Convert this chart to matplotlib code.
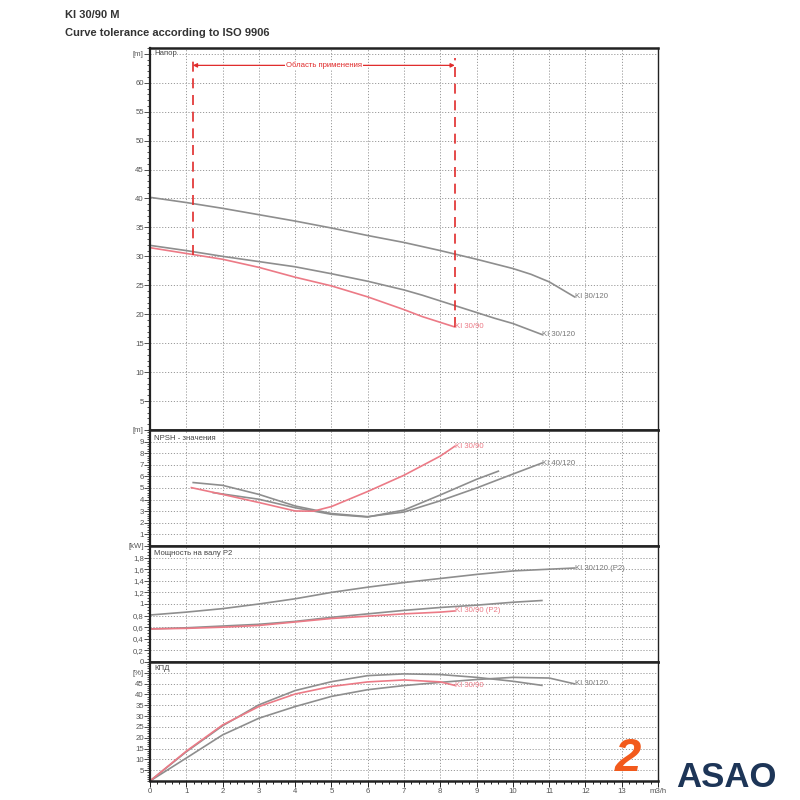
import matplotlib
matplotlib.use("Agg")
import matplotlib.pyplot as plt
from matplotlib.ticker import MultipleLocator, FixedLocator, FixedFormatter

plt.rcParams['font.family'] = ['Liberation Sans', 'DejaVu Sans']

# ---------------- data ----------------
title_1 = "KI 30/90 M"
title_2 = "Curve tolerance according to ISO 9906"

# Head [m]
head_upper_q = [0, 1, 2, 3, 4, 5, 6, 7, 8, 9, 10, 10.5, 11, 11.7]
head_upper_h = [40.2, 39.3, 38.3, 37.2, 36.1, 34.9, 33.6, 32.4, 31.0, 29.5, 27.9, 26.9, 25.6, 23.0]
head_lower_q = [0, 1, 2, 3, 4, 5, 6, 7, 7.5, 8, 8.5, 9, 9.5, 10, 10.8]
head_lower_h = [31.9, 31.0, 30.0, 29.1, 28.2, 27.0, 25.7, 24.2, 23.3, 22.3, 21.3, 20.3, 19.3, 18.4, 16.5]
head_red_q = [0, 1, 2, 3, 4, 5, 6, 7, 7.5, 8, 8.4]
head_red_h = [31.5, 30.5, 29.5, 28.1, 26.4, 24.9, 23.0, 20.8, 19.6, 18.6, 17.8]

# application range
range_q = [1.18, 8.4]
range_h_bottom = [30.2, 17.8]
range_h_top = 64.3
range_arrow_h = 63.0
range_text = "Область применения"

# NPSH [m]
npsh_red_q = [1.14, 2, 3, 4, 4.5, 5, 6, 7, 8, 8.4]
npsh_red_v = [5.03, 4.45, 3.75, 3.02, 3.0, 3.4, 4.7, 6.1, 7.75, 8.6]
npsh_a_q = [1.19, 2, 3, 4, 5, 6, 7, 8, 9, 10, 10.8]
npsh_a_v = [5.47, 5.23, 4.45, 3.45, 2.8, 2.53, 2.93, 3.9, 5.0, 6.2, 7.15]
npsh_b_q = [1.74, 3, 4, 5, 6, 7, 8, 9, 9.6]
npsh_b_v = [4.6, 4.03, 3.3, 2.73, 2.5, 3.1, 4.4, 5.75, 6.45]

# Power P2 [kW]
p2_upper_q = [0, 1, 2, 3, 4, 5, 6, 7, 8, 9, 10, 11, 11.7]
p2_upper_v = [0.81, 0.86, 0.92, 1.0, 1.09, 1.2, 1.29, 1.37, 1.44, 1.51, 1.57, 1.6, 1.62]
p2_lower_q = [0, 1, 2, 3, 4, 5, 6, 7, 8, 9, 10, 10.8]
p2_lower_v = [0.57, 0.59, 0.62, 0.65, 0.70, 0.77, 0.83, 0.89, 0.94, 0.98, 1.03, 1.06]
p2_red_q = [0, 1, 2, 3, 4, 5, 6, 7, 8, 8.4]
p2_red_v = [0.57, 0.58, 0.60, 0.63, 0.69, 0.75, 0.79, 0.83, 0.86, 0.88]

# Efficiency [%]
eff_a_q = [0, 1, 2, 3, 4, 5, 6, 7, 8, 9, 10, 10.8]
eff_a_v = [0, 13.5, 25.5, 35.2, 41.8, 45.9, 48.7, 49.5, 49.2, 47.9, 46.1, 44.2]
eff_red_q = [0, 1, 2, 3, 4, 5, 6, 7, 8, 8.4]
eff_red_v = [0, 13.8, 25.9, 34.4, 40.2, 43.7, 45.8, 46.7, 45.8, 44.2]
eff_b_q = [0, 1, 2, 3, 4, 5, 6, 7, 8, 9, 10, 11, 11.7]
eff_b_v = [0, 10.6, 21.3, 29.0, 34.4, 39.1, 42.2, 44.1, 45.6, 46.9, 47.9, 47.6, 44.9]

x_ticks = list(range(0, 15))
x_labels = [str(i) for i in range(0, 14)] + ["m3/h"]

# ---------------- style ----------------
GRAY = "#8e8e8e"
RED = "#ec7a86"
DRED = "#e02b2b"
TXT = "#555555"
FS = 5.6

fig = plt.figure(figsize=(8, 8), dpi=100)
L, W = 0.1875, 0.635
ax_h = fig.add_axes([L, 0.4625, W, 0.4775])
ax_n = fig.add_axes([L, 0.3175, W, 0.145], sharex=ax_h)
ax_p = fig.add_axes([L, 0.1725, W, 0.145], sharex=ax_h)
ax_e = fig.add_axes([L, 0.02375, W, 0.14875], sharex=ax_h)
axes = [ax_h, ax_n, ax_p, ax_e]

for ax in axes:
    ax.set_xlim(0, 14)
    ax.xaxis.set_major_locator(MultipleLocator(1))
    ax.xaxis.set_minor_locator(MultipleLocator(0.2))
    ax.grid(True, which='major', color="#9a9a9a", linestyle=(0, (1.2, 1.8)), linewidth=0.7)
    ax.tick_params(axis='y', which='both', direction='out', colors="#333333", labelsize=FS,
                   labelcolor=TXT, length=4, width=0.6, pad=0.5)
    ax.tick_params(axis='y', which='minor', length=2)
    ax.tick_params(axis='x', which='both', direction='out', length=0, labelbottom=False)
    for s in ['left', 'right', 'top', 'bottom']:
        ax.spines[s].set_color("#222222")
        ax.spines[s].set_linewidth(1.0)
    ax.spines['left'].set_linewidth(1.6)
    ax.spines['top'].set_linewidth(1.8)
    ax.spines['bottom'].set_linewidth(1.8)
    ax.set_axisbelow(True)

ax_e.tick_params(axis='x', which='both', length=4, labelbottom=True, labelsize=FS,
                 labelcolor=TXT, width=0.6, pad=1)
ax_e.tick_params(axis='x', which='minor', length=2.5)
ax_e.xaxis.set_major_locator(FixedLocator(x_ticks))
ax_e.xaxis.set_major_formatter(FixedFormatter(x_labels))

# Head panel
ax_h.set_ylim(0, 66)
h_ticks = list(range(5, 70, 5))
ax_h.yaxis.set_major_locator(FixedLocator(h_ticks))
ax_h.yaxis.set_major_formatter(FixedFormatter([str(t) for t in h_ticks[:-1]] + ["[m]"]))
ax_h.yaxis.set_minor_locator(MultipleLocator(1))
ax_h.plot(head_upper_q, head_upper_h, color=GRAY, lw=1.2)
ax_h.plot(head_lower_q, head_lower_h, color=GRAY, lw=1.2)
ax_h.plot(head_red_q, head_red_h, color=RED, lw=1.2)
ax_h.text(head_upper_q[-1], head_upper_h[-1], "KI 30/120", fontsize=FS, color="#777777", va='center', ha='left')
ax_h.text(head_lower_q[-1], head_lower_h[-1], "KI 30/120", fontsize=FS, color="#777777", va='center', ha='left')
ax_h.text(head_red_q[-1], head_red_h[-1], "KI 30/90", fontsize=FS, color=RED, va='center', ha='left')
for q, hb in zip(range_q, range_h_bottom):
    ax_h.plot([q, q], [hb, range_h_top], color=DRED, lw=1.2, linestyle=(0, (6, 4)))
ax_h.annotate("", xy=(range_q[0], range_arrow_h), xytext=(range_q[1], range_arrow_h),
              arrowprops=dict(arrowstyle='<|-|>', color=DRED, lw=0.9, mutation_scale=6,
                              shrinkA=0, shrinkB=0))
ax_h.text(sum(range_q) / 2, range_arrow_h, range_text, fontsize=FS, color=DRED, ha='center', va='center',
          bbox=dict(facecolor='white', edgecolor='none', pad=0.5))
ax_h.text(0.12, 65, "Напор", fontsize=FS, color="#444444", va='center', ha='left',
          bbox=dict(facecolor='white', edgecolor='none', pad=0.3))

# NPSH panel
ax_n.set_ylim(0, 10)
n_ticks = list(range(1, 11))
ax_n.yaxis.set_major_locator(FixedLocator(n_ticks))
ax_n.yaxis.set_major_formatter(FixedFormatter([str(t) for t in n_ticks[:-1]] + ["[m]"]))
ax_n.yaxis.set_minor_locator(MultipleLocator(0.2))
ax_n.plot(npsh_a_q, npsh_a_v, color=GRAY, lw=1.2)
ax_n.plot(npsh_b_q, npsh_b_v, color=GRAY, lw=1.2)
ax_n.plot(npsh_red_q, npsh_red_v, color=RED, lw=1.2)
ax_n.text(npsh_red_q[-1], npsh_red_v[-1], "KI 30/90", fontsize=FS, color=RED, va='center', ha='left')
ax_n.text(npsh_a_q[-1], npsh_a_v[-1], "KI 40/120", fontsize=FS, color="#777777", va='center', ha='left')
ax_n.text(0.12, 9.3, "NPSH - значения", fontsize=FS, color="#444444", va='center', ha='left',
          bbox=dict(facecolor='white', edgecolor='none', pad=0.3))

# Power panel
ax_p.set_ylim(0, 2.0)
p_ticks = [0, 0.2, 0.4, 0.6, 0.8, 1.0, 1.2, 1.4, 1.6, 1.8, 2.0]
p_labels = ["0", "0,2", "0,4", "0,6", "0,8", "1", "1,2", "1,4", "1,6", "1,8", "[kW]"]
ax_p.yaxis.set_major_locator(FixedLocator(p_ticks))
ax_p.yaxis.set_major_formatter(FixedFormatter(p_labels))
ax_p.yaxis.set_minor_locator(MultipleLocator(0.05))
ax_p.plot(p2_upper_q, p2_upper_v, color=GRAY, lw=1.2)
ax_p.plot(p2_lower_q, p2_lower_v, color=GRAY, lw=1.2)
ax_p.plot(p2_red_q, p2_red_v, color=RED, lw=1.2)
ax_p.text(p2_upper_q[-1], p2_upper_v[-1], "KI 30/120 (P2)", fontsize=FS, color="#777777", va='center', ha='left')
ax_p.text(p2_red_q[-1], p2_red_v[-1], "KI 30/90 (P2)", fontsize=FS, color=RED, va='center', ha='left')
ax_p.text(0.12, 1.87, "Мощность на валу P2", fontsize=FS, color="#444444", va='center', ha='left',
          bbox=dict(facecolor='white', edgecolor='none', pad=0.3))

# Efficiency panel
ax_e.set_ylim(0, 55)
e_ticks = [5, 10, 15, 20, 25, 30, 35, 40, 45, 50]
ax_e.yaxis.set_major_locator(FixedLocator(e_ticks))
ax_e.yaxis.set_major_formatter(FixedFormatter([str(t) for t in e_ticks[:-1]] + ["[%]"]))
ax_e.yaxis.set_minor_locator(MultipleLocator(1))
ax_e.plot(eff_a_q, eff_a_v, color=GRAY, lw=1.2)
ax_e.plot(eff_b_q, eff_b_v, color=GRAY, lw=1.2)
ax_e.plot(eff_red_q, eff_red_v, color=RED, lw=1.2)
ax_e.text(eff_red_q[-1], eff_red_v[-1], "KI 30/90", fontsize=FS, color=RED, va='center', ha='left')
ax_e.text(eff_b_q[-1], eff_b_v[-1], "KI 30/120", fontsize=FS, color="#777777", va='center', ha='left')
ax_e.text(0.12, 52, "КПД", fontsize=FS, color="#444444", va='center', ha='left',
          bbox=dict(facecolor='white', edgecolor='none', pad=0.3))

# Titles
fig.text(0.081, 0.987, title_1, fontsize=8, fontweight='bold', color="#333333", va='top', ha='left')
fig.text(0.081, 0.965, title_2, fontsize=8, fontweight='bold', color="#333333", va='top', ha='left')

# Logo
fig.text(0.785, 0.024, "2", fontsize=34, fontweight='bold', style='italic', color="#f25a1c",
         va='bottom', ha='center')
fig.text(0.845, 0.028, "ASAO", fontsize=25, fontweight='bold', color="#1d3557", va='center', ha='left')

fig.savefig("out.png", dpi=100, facecolor='white')
